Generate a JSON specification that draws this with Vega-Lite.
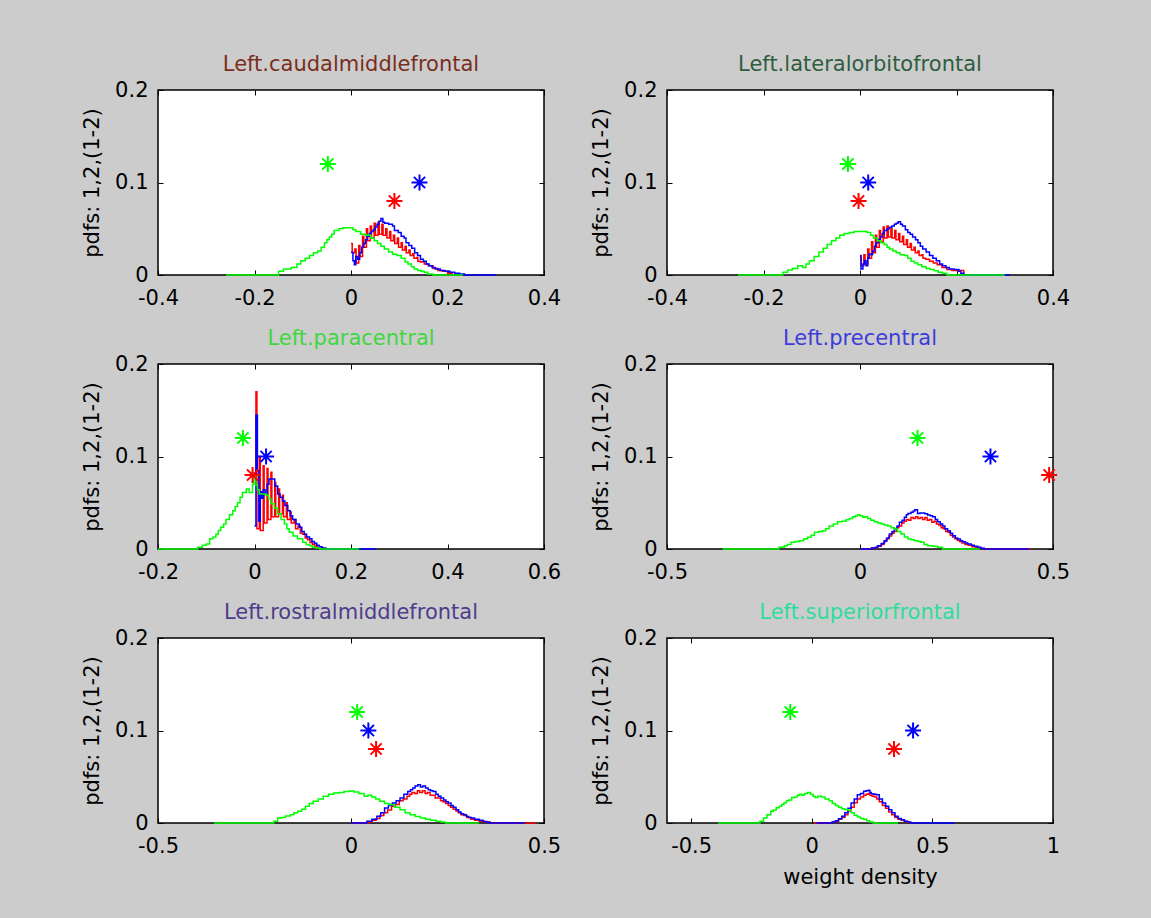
{
"$schema":"https://vega.github.io/schema/vega-lite/v6.json",
"background":"#cccccc",
"autosize":{"type":"pad"},
"padding":{"left":80,"top":53,"right":82,"bottom":35},
"columns":2,
"spacing":{"row":89,"column":123},
"bounds":"flush",
"datasets":{
"st":[
{"p":1,"s":"g","x":-0.048,"y":0.12},{"p":1,"s":"b","x":0.142,"y":0.1},{"p":1,"s":"r","x":0.09,"y":0.08},
{"p":2,"s":"g","x":-0.025,"y":0.12},{"p":2,"s":"b","x":0.017,"y":0.1},{"p":2,"s":"r","x":-0.003,"y":0.08},
{"p":3,"s":"g","x":-0.024,"y":0.12},{"p":3,"s":"b","x":0.024,"y":0.1},{"p":3,"s":"r","x":-0.004,"y":0.08},
{"p":4,"s":"g","x":0.149,"y":0.12},{"p":4,"s":"b","x":0.338,"y":0.1},{"p":4,"s":"r","x":0.49,"y":0.08},
{"p":5,"s":"g","x":0.016,"y":0.12},{"p":5,"s":"b","x":0.045,"y":0.1},{"p":5,"s":"r","x":0.065,"y":0.08},
{"p":6,"s":"g","x":-0.089,"y":0.12},{"p":6,"s":"b","x":0.42,"y":0.1},{"p":6,"s":"r","x":0.341,"y":0.08}
],
"c":[
{"p":1,"s":"g","x":-0.259,"y":0},{"p":1,"s":"g","x":-0.162,"y":0},{"p":1,"s":"g","x":-0.15,"y":0.004},{"p":1,"s":"g","x":-0.14,"y":0.0065},{"p":1,"s":"g","x":-0.124,"y":0.008},{"p":1,"s":"g","x":-0.112,"y":0.012},{"p":1,"s":"g","x":-0.104,"y":0.0155},{"p":1,"s":"g","x":-0.095,"y":0.018},{"p":1,"s":"g","x":-0.086,"y":0.021},{"p":1,"s":"g","x":-0.078,"y":0.024},{"p":1,"s":"g","x":-0.069,"y":0.026},{"p":1,"s":"g","x":-0.062,"y":0.03},{"p":1,"s":"g","x":-0.055,"y":0.035},{"p":1,"s":"g","x":-0.05,"y":0.038},{"p":1,"s":"g","x":-0.045,"y":0.041},{"p":1,"s":"g","x":-0.04,"y":0.044},{"p":1,"s":"g","x":-0.035,"y":0.048},{"p":1,"s":"g","x":-0.025,"y":0.05},{"p":1,"s":"g","x":-0.017,"y":0.051},{"p":1,"s":"g","x":0.004,"y":0.049},{"p":1,"s":"g","x":0.01,"y":0.047},{"p":1,"s":"g","x":0.02,"y":0.044},{"p":1,"s":"g","x":0.03,"y":0.043},{"p":1,"s":"g","x":0.041,"y":0.04},{"p":1,"s":"g","x":0.048,"y":0.037},{"p":1,"s":"g","x":0.055,"y":0.034},{"p":1,"s":"g","x":0.062,"y":0.031},{"p":1,"s":"g","x":0.069,"y":0.028},{"p":1,"s":"g","x":0.078,"y":0.025},{"p":1,"s":"g","x":0.086,"y":0.0225},{"p":1,"s":"g","x":0.095,"y":0.021},{"p":1,"s":"g","x":0.104,"y":0.018},{"p":1,"s":"g","x":0.112,"y":0.014},{"p":1,"s":"g","x":0.118,"y":0.012},{"p":1,"s":"g","x":0.125,"y":0.009},{"p":1,"s":"g","x":0.131,"y":0.0065},{"p":1,"s":"g","x":0.138,"y":0.005},{"p":1,"s":"g","x":0.145,"y":0.004},{"p":1,"s":"g","x":0.152,"y":0.003},{"p":1,"s":"g","x":0.159,"y":0.001},{"p":1,"s":"g","x":0.17,"y":0},{"p":1,"s":"g","x":0.232,"y":0},
{"p":1,"s":"b","x":0,"y":0.0245},{"p":1,"s":"b","x":0.004,"y":0.0155},{"p":1,"s":"b","x":0.007,"y":0.011},{"p":1,"s":"b","x":0.01,"y":0.02},{"p":1,"s":"b","x":0.014,"y":0.017},{"p":1,"s":"b","x":0.018,"y":0.024},{"p":1,"s":"b","x":0.022,"y":0.03},{"p":1,"s":"b","x":0.026,"y":0.034},{"p":1,"s":"b","x":0.03,"y":0.038},{"p":1,"s":"b","x":0.034,"y":0.042},{"p":1,"s":"b","x":0.038,"y":0.045},{"p":1,"s":"b","x":0.042,"y":0.047},{"p":1,"s":"b","x":0.046,"y":0.049},{"p":1,"s":"b","x":0.05,"y":0.052},{"p":1,"s":"b","x":0.054,"y":0.055},{"p":1,"s":"b","x":0.058,"y":0.058},{"p":1,"s":"b","x":0.062,"y":0.061},{"p":1,"s":"b","x":0.066,"y":0.057},{"p":1,"s":"b","x":0.07,"y":0.056},{"p":1,"s":"b","x":0.078,"y":0.055},{"p":1,"s":"b","x":0.086,"y":0.053},{"p":1,"s":"b","x":0.09,"y":0.048},{"p":1,"s":"b","x":0.098,"y":0.046},{"p":1,"s":"b","x":0.104,"y":0.042},{"p":1,"s":"b","x":0.11,"y":0.04},{"p":1,"s":"b","x":0.114,"y":0.035},{"p":1,"s":"b","x":0.12,"y":0.032},{"p":1,"s":"b","x":0.126,"y":0.029},{"p":1,"s":"b","x":0.132,"y":0.024},{"p":1,"s":"b","x":0.138,"y":0.021},{"p":1,"s":"b","x":0.144,"y":0.017},{"p":1,"s":"b","x":0.15,"y":0.015},{"p":1,"s":"b","x":0.156,"y":0.012},{"p":1,"s":"b","x":0.162,"y":0.01},{"p":1,"s":"b","x":0.168,"y":0.008},{"p":1,"s":"b","x":0.175,"y":0.0065},{"p":1,"s":"b","x":0.185,"y":0.005},{"p":1,"s":"b","x":0.195,"y":0.004},{"p":1,"s":"b","x":0.205,"y":0.003},{"p":1,"s":"b","x":0.215,"y":0.002},{"p":1,"s":"b","x":0.225,"y":0.001},{"p":1,"s":"b","x":0.235,"y":0},{"p":1,"s":"b","x":0.3,"y":0},
{"p":1,"s":"r","x":0,"y":0.034},{"p":1,"s":"r","x":0.0025,"y":0.024},{"p":1,"s":"r","x":0.008,"y":0.028},{"p":1,"s":"r","x":0.0105,"y":0.013},{"p":1,"s":"r","x":0.016,"y":0.032},{"p":1,"s":"r","x":0.0185,"y":0.02},{"p":1,"s":"r","x":0.024,"y":0.042},{"p":1,"s":"r","x":0.0265,"y":0.03},{"p":1,"s":"r","x":0.032,"y":0.05},{"p":1,"s":"r","x":0.0345,"y":0.037},{"p":1,"s":"r","x":0.04,"y":0.053},{"p":1,"s":"r","x":0.0425,"y":0.04},{"p":1,"s":"r","x":0.048,"y":0.056},{"p":1,"s":"r","x":0.0505,"y":0.043},{"p":1,"s":"r","x":0.056,"y":0.057},{"p":1,"s":"r","x":0.0585,"y":0.044},{"p":1,"s":"r","x":0.064,"y":0.055},{"p":1,"s":"r","x":0.0665,"y":0.043},{"p":1,"s":"r","x":0.072,"y":0.05},{"p":1,"s":"r","x":0.0745,"y":0.04},{"p":1,"s":"r","x":0.08,"y":0.047},{"p":1,"s":"r","x":0.0825,"y":0.037},{"p":1,"s":"r","x":0.088,"y":0.043},{"p":1,"s":"r","x":0.0905,"y":0.034},{"p":1,"s":"r","x":0.096,"y":0.04},{"p":1,"s":"r","x":0.0985,"y":0.03},{"p":1,"s":"r","x":0.104,"y":0.035},{"p":1,"s":"r","x":0.1065,"y":0.027},{"p":1,"s":"r","x":0.112,"y":0.031},{"p":1,"s":"r","x":0.1145,"y":0.024},{"p":1,"s":"r","x":0.12,"y":0.027},{"p":1,"s":"r","x":0.1225,"y":0.021},{"p":1,"s":"r","x":0.128,"y":0.023},{"p":1,"s":"r","x":0.1305,"y":0.018},{"p":1,"s":"r","x":0.136,"y":0.019},{"p":1,"s":"r","x":0.1385,"y":0.015},{"p":1,"s":"r","x":0.144,"y":0.014},{"p":1,"s":"r","x":0.152,"y":0.012},{"p":1,"s":"r","x":0.16,"y":0.01},{"p":1,"s":"r","x":0.17,"y":0.007},{"p":1,"s":"r","x":0.18,"y":0.005},{"p":1,"s":"r","x":0.19,"y":0.004},{"p":1,"s":"r","x":0.2,"y":0.002},{"p":1,"s":"r","x":0.21,"y":0},
{"p":2,"s":"g","x":-0.253,"y":0},{"p":2,"s":"g","x":-0.171,"y":0},{"p":2,"s":"g","x":-0.16,"y":0.003},{"p":2,"s":"g","x":-0.15,"y":0.0054},{"p":2,"s":"g","x":-0.14,"y":0.007},{"p":2,"s":"g","x":-0.129,"y":0.01},{"p":2,"s":"g","x":-0.119,"y":0.008},{"p":2,"s":"g","x":-0.112,"y":0.012},{"p":2,"s":"g","x":-0.105,"y":0.0155},{"p":2,"s":"g","x":-0.095,"y":0.02},{"p":2,"s":"g","x":-0.085,"y":0.025},{"p":2,"s":"g","x":-0.076,"y":0.029},{"p":2,"s":"g","x":-0.068,"y":0.033},{"p":2,"s":"g","x":-0.059,"y":0.037},{"p":2,"s":"g","x":-0.05,"y":0.04},{"p":2,"s":"g","x":-0.042,"y":0.043},{"p":2,"s":"g","x":-0.033,"y":0.045},{"p":2,"s":"g","x":-0.022,"y":0.046},{"p":2,"s":"g","x":-0.012,"y":0.047},{"p":2,"s":"g","x":0.015,"y":0.046},{"p":2,"s":"g","x":0.022,"y":0.043},{"p":2,"s":"g","x":0.028,"y":0.04},{"p":2,"s":"g","x":0.036,"y":0.037},{"p":2,"s":"g","x":0.043,"y":0.035},{"p":2,"s":"g","x":0.05,"y":0.033},{"p":2,"s":"g","x":0.056,"y":0.03},{"p":2,"s":"g","x":0.061,"y":0.028},{"p":2,"s":"g","x":0.068,"y":0.026},{"p":2,"s":"g","x":0.075,"y":0.024},{"p":2,"s":"g","x":0.083,"y":0.022},{"p":2,"s":"g","x":0.092,"y":0.021},{"p":2,"s":"g","x":0.099,"y":0.018},{"p":2,"s":"g","x":0.106,"y":0.015},{"p":2,"s":"g","x":0.113,"y":0.013},{"p":2,"s":"g","x":0.12,"y":0.011},{"p":2,"s":"g","x":0.128,"y":0.009},{"p":2,"s":"g","x":0.137,"y":0.007},{"p":2,"s":"g","x":0.145,"y":0.006},{"p":2,"s":"g","x":0.154,"y":0.0045},{"p":2,"s":"g","x":0.162,"y":0.003},{"p":2,"s":"g","x":0.171,"y":0.002},{"p":2,"s":"g","x":0.18,"y":0},{"p":2,"s":"g","x":0.3,"y":0},
{"p":2,"s":"b","x":0,"y":0.021},{"p":2,"s":"b","x":0.002,"y":0.0065},{"p":2,"s":"b","x":0.006,"y":0.012},{"p":2,"s":"b","x":0.009,"y":0.0155},{"p":2,"s":"b","x":0.0125,"y":0.01},{"p":2,"s":"b","x":0.016,"y":0.018},{"p":2,"s":"b","x":0.019,"y":0.0227},{"p":2,"s":"b","x":0.023,"y":0.022},{"p":2,"s":"b","x":0.026,"y":0.026},{"p":2,"s":"b","x":0.03,"y":0.031},{"p":2,"s":"b","x":0.033,"y":0.035},{"p":2,"s":"b","x":0.038,"y":0.038},{"p":2,"s":"b","x":0.042,"y":0.041},{"p":2,"s":"b","x":0.046,"y":0.045},{"p":2,"s":"b","x":0.05,"y":0.048},{"p":2,"s":"b","x":0.056,"y":0.05},{"p":2,"s":"b","x":0.061,"y":0.0515},{"p":2,"s":"b","x":0.066,"y":0.053},{"p":2,"s":"b","x":0.071,"y":0.055},{"p":2,"s":"b","x":0.075,"y":0.056},{"p":2,"s":"b","x":0.079,"y":0.0576},{"p":2,"s":"b","x":0.084,"y":0.055},{"p":2,"s":"b","x":0.088,"y":0.053},{"p":2,"s":"b","x":0.094,"y":0.049},{"p":2,"s":"b","x":0.099,"y":0.046},{"p":2,"s":"b","x":0.104,"y":0.044},{"p":2,"s":"b","x":0.109,"y":0.041},{"p":2,"s":"b","x":0.115,"y":0.038},{"p":2,"s":"b","x":0.12,"y":0.035},{"p":2,"s":"b","x":0.125,"y":0.031},{"p":2,"s":"b","x":0.13,"y":0.028},{"p":2,"s":"b","x":0.137,"y":0.025},{"p":2,"s":"b","x":0.144,"y":0.021},{"p":2,"s":"b","x":0.151,"y":0.018},{"p":2,"s":"b","x":0.158,"y":0.0155},{"p":2,"s":"b","x":0.165,"y":0.012},{"p":2,"s":"b","x":0.171,"y":0.01},{"p":2,"s":"b","x":0.178,"y":0.008},{"p":2,"s":"b","x":0.185,"y":0.0065},{"p":2,"s":"b","x":0.195,"y":0.006},{"p":2,"s":"b","x":0.205,"y":0.004},{"p":2,"s":"b","x":0.209,"y":0.002},{"p":2,"s":"b","x":0.215,"y":0},{"p":2,"s":"b","x":0.31,"y":0},
{"p":2,"s":"r","x":0,"y":0.02},{"p":2,"s":"r","x":0.0025,"y":0.01},{"p":2,"s":"r","x":0.008,"y":0.022},{"p":2,"s":"r","x":0.0105,"y":0.012},{"p":2,"s":"r","x":0.016,"y":0.028},{"p":2,"s":"r","x":0.0185,"y":0.018},{"p":2,"s":"r","x":0.024,"y":0.036},{"p":2,"s":"r","x":0.0265,"y":0.024},{"p":2,"s":"r","x":0.032,"y":0.043},{"p":2,"s":"r","x":0.0345,"y":0.03},{"p":2,"s":"r","x":0.04,"y":0.048},{"p":2,"s":"r","x":0.0425,"y":0.036},{"p":2,"s":"r","x":0.048,"y":0.052},{"p":2,"s":"r","x":0.0505,"y":0.04},{"p":2,"s":"r","x":0.056,"y":0.053},{"p":2,"s":"r","x":0.0585,"y":0.041},{"p":2,"s":"r","x":0.064,"y":0.05},{"p":2,"s":"r","x":0.0665,"y":0.04},{"p":2,"s":"r","x":0.072,"y":0.048},{"p":2,"s":"r","x":0.0745,"y":0.038},{"p":2,"s":"r","x":0.08,"y":0.045},{"p":2,"s":"r","x":0.0825,"y":0.036},{"p":2,"s":"r","x":0.088,"y":0.042},{"p":2,"s":"r","x":0.0905,"y":0.033},{"p":2,"s":"r","x":0.096,"y":0.038},{"p":2,"s":"r","x":0.0985,"y":0.03},{"p":2,"s":"r","x":0.104,"y":0.034},{"p":2,"s":"r","x":0.1065,"y":0.027},{"p":2,"s":"r","x":0.112,"y":0.03},{"p":2,"s":"r","x":0.1145,"y":0.024},{"p":2,"s":"r","x":0.12,"y":0.026},{"p":2,"s":"r","x":0.1225,"y":0.021},{"p":2,"s":"r","x":0.128,"y":0.022},{"p":2,"s":"r","x":0.1305,"y":0.018},{"p":2,"s":"r","x":0.136,"y":0.017},{"p":2,"s":"r","x":0.144,"y":0.015},{"p":2,"s":"r","x":0.152,"y":0.013},{"p":2,"s":"r","x":0.16,"y":0.011},{"p":2,"s":"r","x":0.17,"y":0.008},{"p":2,"s":"r","x":0.18,"y":0.006},{"p":2,"s":"r","x":0.19,"y":0.005},{"p":2,"s":"r","x":0.215,"y":0},
{"p":3,"s":"g","x":-0.2,"y":0},{"p":3,"s":"g","x":-0.128,"y":0},{"p":3,"s":"g","x":-0.118,"y":0.002},{"p":3,"s":"g","x":-0.108,"y":0.004},{"p":3,"s":"g","x":-0.1,"y":0.0054},{"p":3,"s":"g","x":-0.093,"y":0.011},{"p":3,"s":"g","x":-0.086,"y":0.013},{"p":3,"s":"g","x":-0.08,"y":0.016},{"p":3,"s":"g","x":-0.075,"y":0.02},{"p":3,"s":"g","x":-0.07,"y":0.0234},{"p":3,"s":"g","x":-0.064,"y":0.027},{"p":3,"s":"g","x":-0.059,"y":0.032},{"p":3,"s":"g","x":-0.052,"y":0.037},{"p":3,"s":"g","x":-0.045,"y":0.0414},{"p":3,"s":"g","x":-0.04,"y":0.046},{"p":3,"s":"g","x":-0.035,"y":0.05},{"p":3,"s":"g","x":-0.03,"y":0.056},{"p":3,"s":"g","x":-0.025,"y":0.061},{"p":3,"s":"g","x":-0.017,"y":0.065},{"p":3,"s":"g","x":-0.011,"y":0.061},{"p":3,"s":"g","x":-0.004,"y":0.07},{"p":3,"s":"g","x":-0.001,"y":0.078},{"p":3,"s":"g","x":0.003,"y":0.069},{"p":3,"s":"g","x":0.006,"y":0.064},{"p":3,"s":"g","x":0.01,"y":0.0595},{"p":3,"s":"g","x":0.024,"y":0.058},{"p":3,"s":"g","x":0.029,"y":0.054},{"p":3,"s":"g","x":0.034,"y":0.049},{"p":3,"s":"g","x":0.041,"y":0.044},{"p":3,"s":"g","x":0.048,"y":0.038},{"p":3,"s":"g","x":0.055,"y":0.032},{"p":3,"s":"g","x":0.062,"y":0.027},{"p":3,"s":"g","x":0.067,"y":0.022},{"p":3,"s":"g","x":0.072,"y":0.018},{"p":3,"s":"g","x":0.08,"y":0.014},{"p":3,"s":"g","x":0.089,"y":0.011},{"p":3,"s":"g","x":0.1,"y":0.0072},{"p":3,"s":"g","x":0.107,"y":0.005},{"p":3,"s":"g","x":0.114,"y":0.0036},{"p":3,"s":"g","x":0.12,"y":0.002},{"p":3,"s":"g","x":0.127,"y":0.001},{"p":3,"s":"g","x":0.135,"y":0},{"p":3,"s":"g","x":0.217,"y":0},
{"p":3,"s":"b","x":0,"y":0.025},{"p":3,"s":"b","x":0.003,"y":0.145},{"p":3,"s":"b","x":0.006,"y":0.085},{"p":3,"s":"b","x":0.009,"y":0.03},{"p":3,"s":"b","x":0.012,"y":0.062},{"p":3,"s":"b","x":0.015,"y":0.055},{"p":3,"s":"b","x":0.018,"y":0.064},{"p":3,"s":"b","x":0.022,"y":0.06},{"p":3,"s":"b","x":0.026,"y":0.07},{"p":3,"s":"b","x":0.03,"y":0.0757},{"p":3,"s":"b","x":0.037,"y":0.0757},{"p":3,"s":"b","x":0.042,"y":0.068},{"p":3,"s":"b","x":0.048,"y":0.0595},{"p":3,"s":"b","x":0.053,"y":0.056},{"p":3,"s":"b","x":0.058,"y":0.052},{"p":3,"s":"b","x":0.063,"y":0.047},{"p":3,"s":"b","x":0.069,"y":0.0414},{"p":3,"s":"b","x":0.074,"y":0.036},{"p":3,"s":"b","x":0.079,"y":0.032},{"p":3,"s":"b","x":0.086,"y":0.027},{"p":3,"s":"b","x":0.093,"y":0.0234},{"p":3,"s":"b","x":0.098,"y":0.019},{"p":3,"s":"b","x":0.103,"y":0.016},{"p":3,"s":"b","x":0.108,"y":0.013},{"p":3,"s":"b","x":0.114,"y":0.011},{"p":3,"s":"b","x":0.119,"y":0.008},{"p":3,"s":"b","x":0.124,"y":0.0061},{"p":3,"s":"b","x":0.129,"y":0.004},{"p":3,"s":"b","x":0.134,"y":0.0025},{"p":3,"s":"b","x":0.14,"y":0.001},{"p":3,"s":"b","x":0.148,"y":0},{"p":3,"s":"b","x":0.252,"y":0},
{"p":3,"s":"r","x":0,"y":0.075},{"p":3,"s":"r","x":0.003,"y":0.17},{"p":3,"s":"r","x":0.005,"y":0.022},{"p":3,"s":"r","x":0.01,"y":0.1},{"p":3,"s":"r","x":0.012,"y":0.02},{"p":3,"s":"r","x":0.018,"y":0.09},{"p":3,"s":"r","x":0.02,"y":0.028},{"p":3,"s":"r","x":0.026,"y":0.087},{"p":3,"s":"r","x":0.028,"y":0.032},{"p":3,"s":"r","x":0.034,"y":0.083},{"p":3,"s":"r","x":0.036,"y":0.035},{"p":3,"s":"r","x":0.042,"y":0.072},{"p":3,"s":"r","x":0.044,"y":0.035},{"p":3,"s":"r","x":0.05,"y":0.065},{"p":3,"s":"r","x":0.052,"y":0.038},{"p":3,"s":"r","x":0.058,"y":0.058},{"p":3,"s":"r","x":0.06,"y":0.035},{"p":3,"s":"r","x":0.066,"y":0.05},{"p":3,"s":"r","x":0.068,"y":0.032},{"p":3,"s":"r","x":0.074,"y":0.04},{"p":3,"s":"r","x":0.076,"y":0.028},{"p":3,"s":"r","x":0.082,"y":0.032},{"p":3,"s":"r","x":0.085,"y":0.022},{"p":3,"s":"r","x":0.09,"y":0.025},{"p":3,"s":"r","x":0.095,"y":0.017},{"p":3,"s":"r","x":0.1,"y":0.016},{"p":3,"s":"r","x":0.105,"y":0.012},{"p":3,"s":"r","x":0.11,"y":0.01},{"p":3,"s":"r","x":0.115,"y":0.007},{"p":3,"s":"r","x":0.12,"y":0.005},{"p":3,"s":"r","x":0.125,"y":0.003},{"p":3,"s":"r","x":0.13,"y":0.001},{"p":3,"s":"r","x":0.14,"y":0},
{"p":4,"s":"g","x":-0.356,"y":0},{"p":4,"s":"g","x":-0.222,"y":0},{"p":4,"s":"g","x":-0.21,"y":0.002},{"p":4,"s":"g","x":-0.196,"y":0.0036},{"p":4,"s":"g","x":-0.188,"y":0.005},{"p":4,"s":"g","x":-0.179,"y":0.0072},{"p":4,"s":"g","x":-0.168,"y":0.008},{"p":4,"s":"g","x":-0.157,"y":0.009},{"p":4,"s":"g","x":-0.146,"y":0.011},{"p":4,"s":"g","x":-0.136,"y":0.0126},{"p":4,"s":"g","x":-0.127,"y":0.015},{"p":4,"s":"g","x":-0.118,"y":0.018},{"p":4,"s":"g","x":-0.107,"y":0.019},{"p":4,"s":"g","x":-0.097,"y":0.0198},{"p":4,"s":"g","x":-0.089,"y":0.022},{"p":4,"s":"g","x":-0.08,"y":0.025},{"p":4,"s":"g","x":-0.069,"y":0.027},{"p":4,"s":"g","x":-0.058,"y":0.0295},{"p":4,"s":"g","x":-0.047,"y":0.03},{"p":4,"s":"g","x":-0.036,"y":0.0317},{"p":4,"s":"g","x":-0.028,"y":0.033},{"p":4,"s":"g","x":-0.019,"y":0.0349},{"p":4,"s":"g","x":-0.012,"y":0.036},{"p":4,"s":"g","x":-0.006,"y":0.0371},{"p":4,"s":"g","x":0,"y":0.036},{"p":4,"s":"g","x":0.007,"y":0.0342},{"p":4,"s":"g","x":0.013,"y":0.035},{"p":4,"s":"g","x":0.02,"y":0.0331},{"p":4,"s":"g","x":0.028,"y":0.031},{"p":4,"s":"g","x":0.037,"y":0.0295},{"p":4,"s":"g","x":0.046,"y":0.028},{"p":4,"s":"g","x":0.055,"y":0.027},{"p":4,"s":"g","x":0.063,"y":0.026},{"p":4,"s":"g","x":0.072,"y":0.025},{"p":4,"s":"g","x":0.08,"y":0.023},{"p":4,"s":"g","x":0.089,"y":0.0216},{"p":4,"s":"g","x":0.097,"y":0.019},{"p":4,"s":"g","x":0.106,"y":0.0162},{"p":4,"s":"g","x":0.115,"y":0.013},{"p":4,"s":"g","x":0.124,"y":0.0108},{"p":4,"s":"g","x":0.132,"y":0.01},{"p":4,"s":"g","x":0.141,"y":0.009},{"p":4,"s":"g","x":0.15,"y":0.008},{"p":4,"s":"g","x":0.158,"y":0.0072},{"p":4,"s":"g","x":0.166,"y":0.005},{"p":4,"s":"g","x":0.175,"y":0.0036},{"p":4,"s":"g","x":0.188,"y":0.003},{"p":4,"s":"g","x":0.201,"y":0.002},{"p":4,"s":"g","x":0.214,"y":0},{"p":4,"s":"g","x":0.31,"y":0},
{"p":4,"s":"b","x":0,"y":0},{"p":4,"s":"b","x":0.03,"y":0.001},{"p":4,"s":"b","x":0.04,"y":0.002},{"p":4,"s":"b","x":0.046,"y":0.0036},{"p":4,"s":"b","x":0.055,"y":0.006},{"p":4,"s":"b","x":0.063,"y":0.009},{"p":4,"s":"b","x":0.07,"y":0.012},{"p":4,"s":"b","x":0.076,"y":0.0162},{"p":4,"s":"b","x":0.083,"y":0.019},{"p":4,"s":"b","x":0.089,"y":0.0216},{"p":4,"s":"b","x":0.096,"y":0.025},{"p":4,"s":"b","x":0.102,"y":0.0288},{"p":4,"s":"b","x":0.109,"y":0.031},{"p":4,"s":"b","x":0.115,"y":0.0342},{"p":4,"s":"b","x":0.12,"y":0.037},{"p":4,"s":"b","x":0.124,"y":0.0385},{"p":4,"s":"b","x":0.132,"y":0.0396},{"p":4,"s":"b","x":0.138,"y":0.041},{"p":4,"s":"b","x":0.142,"y":0.0425},{"p":4,"s":"b","x":0.149,"y":0.0385},{"p":4,"s":"b","x":0.155,"y":0.039},{"p":4,"s":"b","x":0.162,"y":0.0389},{"p":4,"s":"b","x":0.168,"y":0.038},{"p":4,"s":"b","x":0.175,"y":0.0367},{"p":4,"s":"b","x":0.182,"y":0.036},{"p":4,"s":"b","x":0.188,"y":0.035},{"p":4,"s":"b","x":0.195,"y":0.032},{"p":4,"s":"b","x":0.201,"y":0.0295},{"p":4,"s":"b","x":0.208,"y":0.027},{"p":4,"s":"b","x":0.214,"y":0.025},{"p":4,"s":"b","x":0.22,"y":0.022},{"p":4,"s":"b","x":0.227,"y":0.0198},{"p":4,"s":"b","x":0.234,"y":0.017},{"p":4,"s":"b","x":0.24,"y":0.0144},{"p":4,"s":"b","x":0.247,"y":0.012},{"p":4,"s":"b","x":0.253,"y":0.0108},{"p":4,"s":"b","x":0.26,"y":0.009},{"p":4,"s":"b","x":0.266,"y":0.0079},{"p":4,"s":"b","x":0.273,"y":0.0065},{"p":4,"s":"b","x":0.279,"y":0.0054},{"p":4,"s":"b","x":0.288,"y":0.004},{"p":4,"s":"b","x":0.296,"y":0.0029},{"p":4,"s":"b","x":0.305,"y":0.002},{"p":4,"s":"b","x":0.313,"y":0.0007},{"p":4,"s":"b","x":0.322,"y":0},{"p":4,"s":"b","x":0.438,"y":0},
{"p":4,"s":"r","x":0,"y":0},{"p":4,"s":"r","x":0.03,"y":0.001},{"p":4,"s":"r","x":0.045,"y":0.003},{"p":4,"s":"r","x":0.055,"y":0.005},{"p":4,"s":"r","x":0.062,"y":0.008},{"p":4,"s":"r","x":0.068,"y":0.011},{"p":4,"s":"r","x":0.075,"y":0.014},{"p":4,"s":"r","x":0.082,"y":0.017},{"p":4,"s":"r","x":0.088,"y":0.019},{"p":4,"s":"r","x":0.095,"y":0.023},{"p":4,"s":"r","x":0.101,"y":0.025},{"p":4,"s":"r","x":0.108,"y":0.028},{"p":4,"s":"r","x":0.114,"y":0.03},{"p":4,"s":"r","x":0.12,"y":0.032},{"p":4,"s":"r","x":0.126,"y":0.031},{"p":4,"s":"r","x":0.132,"y":0.034},{"p":4,"s":"r","x":0.138,"y":0.033},{"p":4,"s":"r","x":0.144,"y":0.035},{"p":4,"s":"r","x":0.15,"y":0.033},{"p":4,"s":"r","x":0.156,"y":0.034},{"p":4,"s":"r","x":0.162,"y":0.032},{"p":4,"s":"r","x":0.168,"y":0.034},{"p":4,"s":"r","x":0.174,"y":0.031},{"p":4,"s":"r","x":0.18,"y":0.032},{"p":4,"s":"r","x":0.186,"y":0.029},{"p":4,"s":"r","x":0.192,"y":0.03},{"p":4,"s":"r","x":0.198,"y":0.027},{"p":4,"s":"r","x":0.204,"y":0.026},{"p":4,"s":"r","x":0.21,"y":0.023},{"p":4,"s":"r","x":0.216,"y":0.022},{"p":4,"s":"r","x":0.222,"y":0.019},{"p":4,"s":"r","x":0.228,"y":0.018},{"p":4,"s":"r","x":0.234,"y":0.015},{"p":4,"s":"r","x":0.24,"y":0.013},{"p":4,"s":"r","x":0.246,"y":0.011},{"p":4,"s":"r","x":0.252,"y":0.0095},{"p":4,"s":"r","x":0.258,"y":0.008},{"p":4,"s":"r","x":0.264,"y":0.0065},{"p":4,"s":"r","x":0.272,"y":0.005},{"p":4,"s":"r","x":0.28,"y":0.004},{"p":4,"s":"r","x":0.29,"y":0.0025},{"p":4,"s":"r","x":0.3,"y":0.0015},{"p":4,"s":"r","x":0.312,"y":0.0005},{"p":4,"s":"r","x":0.322,"y":0},{"p":4,"s":"r","x":0.442,"y":0},
{"p":5,"s":"g","x":-0.355,"y":0},{"p":5,"s":"g","x":-0.21,"y":0},{"p":5,"s":"g","x":-0.2,"y":0.002},{"p":5,"s":"g","x":-0.19,"y":0.0054},{"p":5,"s":"g","x":-0.18,"y":0.006},{"p":5,"s":"g","x":-0.17,"y":0.0075},{"p":5,"s":"g","x":-0.157,"y":0.009},{"p":5,"s":"g","x":-0.148,"y":0.011},{"p":5,"s":"g","x":-0.138,"y":0.0126},{"p":5,"s":"g","x":-0.128,"y":0.015},{"p":5,"s":"g","x":-0.118,"y":0.018},{"p":5,"s":"g","x":-0.108,"y":0.021},{"p":5,"s":"g","x":-0.098,"y":0.0234},{"p":5,"s":"g","x":-0.085,"y":0.026},{"p":5,"s":"g","x":-0.072,"y":0.029},{"p":5,"s":"g","x":-0.058,"y":0.031},{"p":5,"s":"g","x":-0.045,"y":0.0324},{"p":5,"s":"g","x":-0.03,"y":0.033},{"p":5,"s":"g","x":-0.018,"y":0.034},{"p":5,"s":"g","x":-0.005,"y":0.0345},{"p":5,"s":"g","x":0.008,"y":0.0335},{"p":5,"s":"g","x":0.02,"y":0.032},{"p":5,"s":"g","x":0.034,"y":0.029},{"p":5,"s":"g","x":0.044,"y":0.03},{"p":5,"s":"g","x":0.054,"y":0.028},{"p":5,"s":"g","x":0.064,"y":0.026},{"p":5,"s":"g","x":0.074,"y":0.0234},{"p":5,"s":"g","x":0.087,"y":0.021},{"p":5,"s":"g","x":0.1,"y":0.0198},{"p":5,"s":"g","x":0.113,"y":0.017},{"p":5,"s":"g","x":0.127,"y":0.0144},{"p":5,"s":"g","x":0.14,"y":0.011},{"p":5,"s":"g","x":0.153,"y":0.009},{"p":5,"s":"g","x":0.166,"y":0.007},{"p":5,"s":"g","x":0.18,"y":0.0054},{"p":5,"s":"g","x":0.193,"y":0.004},{"p":5,"s":"g","x":0.206,"y":0.0029},{"p":5,"s":"g","x":0.22,"y":0.002},{"p":5,"s":"g","x":0.233,"y":0.001},{"p":5,"s":"g","x":0.245,"y":0},{"p":5,"s":"g","x":0.332,"y":0},
{"p":5,"s":"b","x":0,"y":0},{"p":5,"s":"b","x":0.041,"y":0.0018},{"p":5,"s":"b","x":0.054,"y":0.004},{"p":5,"s":"b","x":0.067,"y":0.0072},{"p":5,"s":"b","x":0.077,"y":0.011},{"p":5,"s":"b","x":0.087,"y":0.0162},{"p":5,"s":"b","x":0.097,"y":0.019},{"p":5,"s":"b","x":0.107,"y":0.0216},{"p":5,"s":"b","x":0.117,"y":0.024},{"p":5,"s":"b","x":0.127,"y":0.027},{"p":5,"s":"b","x":0.137,"y":0.031},{"p":5,"s":"b","x":0.147,"y":0.034},{"p":5,"s":"b","x":0.154,"y":0.036},{"p":5,"s":"b","x":0.16,"y":0.0378},{"p":5,"s":"b","x":0.166,"y":0.04},{"p":5,"s":"b","x":0.173,"y":0.0414},{"p":5,"s":"b","x":0.18,"y":0.039},{"p":5,"s":"b","x":0.186,"y":0.04},{"p":5,"s":"b","x":0.193,"y":0.0378},{"p":5,"s":"b","x":0.2,"y":0.036},{"p":5,"s":"b","x":0.206,"y":0.035},{"p":5,"s":"b","x":0.213,"y":0.034},{"p":5,"s":"b","x":0.22,"y":0.031},{"p":5,"s":"b","x":0.226,"y":0.029},{"p":5,"s":"b","x":0.233,"y":0.027},{"p":5,"s":"b","x":0.24,"y":0.025},{"p":5,"s":"b","x":0.246,"y":0.023},{"p":5,"s":"b","x":0.252,"y":0.0216},{"p":5,"s":"b","x":0.259,"y":0.019},{"p":5,"s":"b","x":0.265,"y":0.017},{"p":5,"s":"b","x":0.272,"y":0.0144},{"p":5,"s":"b","x":0.279,"y":0.012},{"p":5,"s":"b","x":0.285,"y":0.01},{"p":5,"s":"b","x":0.292,"y":0.009},{"p":5,"s":"b","x":0.299,"y":0.007},{"p":5,"s":"b","x":0.305,"y":0.006},{"p":5,"s":"b","x":0.312,"y":0.0054},{"p":5,"s":"b","x":0.32,"y":0.004},{"p":5,"s":"b","x":0.332,"y":0.0029},{"p":5,"s":"b","x":0.342,"y":0.0015},{"p":5,"s":"b","x":0.352,"y":0.0007},{"p":5,"s":"b","x":0.36,"y":0},{"p":5,"s":"b","x":0.45,"y":0},
{"p":5,"s":"r","x":0,"y":0},{"p":5,"s":"r","x":0.045,"y":0.001},{"p":5,"s":"r","x":0.055,"y":0.003},{"p":5,"s":"r","x":0.065,"y":0.005},{"p":5,"s":"r","x":0.075,"y":0.008},{"p":5,"s":"r","x":0.085,"y":0.011},{"p":5,"s":"r","x":0.095,"y":0.014},{"p":5,"s":"r","x":0.105,"y":0.018},{"p":5,"s":"r","x":0.115,"y":0.02},{"p":5,"s":"r","x":0.125,"y":0.024},{"p":5,"s":"r","x":0.135,"y":0.026},{"p":5,"s":"r","x":0.145,"y":0.029},{"p":5,"s":"r","x":0.152,"y":0.031},{"p":5,"s":"r","x":0.158,"y":0.033},{"p":5,"s":"r","x":0.165,"y":0.032},{"p":5,"s":"r","x":0.172,"y":0.035},{"p":5,"s":"r","x":0.178,"y":0.033},{"p":5,"s":"r","x":0.185,"y":0.035},{"p":5,"s":"r","x":0.192,"y":0.032},{"p":5,"s":"r","x":0.198,"y":0.033},{"p":5,"s":"r","x":0.205,"y":0.03},{"p":5,"s":"r","x":0.212,"y":0.03},{"p":5,"s":"r","x":0.218,"y":0.027},{"p":5,"s":"r","x":0.225,"y":0.027},{"p":5,"s":"r","x":0.232,"y":0.024},{"p":5,"s":"r","x":0.238,"y":0.023},{"p":5,"s":"r","x":0.245,"y":0.021},{"p":5,"s":"r","x":0.252,"y":0.019},{"p":5,"s":"r","x":0.258,"y":0.017},{"p":5,"s":"r","x":0.265,"y":0.015},{"p":5,"s":"r","x":0.272,"y":0.013},{"p":5,"s":"r","x":0.278,"y":0.011},{"p":5,"s":"r","x":0.285,"y":0.009},{"p":5,"s":"r","x":0.292,"y":0.008},{"p":5,"s":"r","x":0.3,"y":0.006},{"p":5,"s":"r","x":0.31,"y":0.004},{"p":5,"s":"r","x":0.32,"y":0.003},{"p":5,"s":"r","x":0.332,"y":0.002},{"p":5,"s":"r","x":0.345,"y":0.001},{"p":5,"s":"r","x":0.36,"y":0},{"p":5,"s":"r","x":0.479,"y":0},
{"p":6,"s":"g","x":-0.388,"y":0},{"p":6,"s":"g","x":-0.229,"y":0},{"p":6,"s":"g","x":-0.215,"y":0.002},{"p":6,"s":"g","x":-0.2,"y":0.0054},{"p":6,"s":"g","x":-0.186,"y":0.009},{"p":6,"s":"g","x":-0.17,"y":0.0126},{"p":6,"s":"g","x":-0.16,"y":0.014},{"p":6,"s":"g","x":-0.147,"y":0.0164},{"p":6,"s":"g","x":-0.135,"y":0.018},{"p":6,"s":"g","x":-0.125,"y":0.02},{"p":6,"s":"g","x":-0.115,"y":0.022},{"p":6,"s":"g","x":-0.105,"y":0.024},{"p":6,"s":"g","x":-0.095,"y":0.025},{"p":6,"s":"g","x":-0.083,"y":0.0276},{"p":6,"s":"g","x":-0.07,"y":0.028},{"p":6,"s":"g","x":-0.06,"y":0.03},{"p":6,"s":"g","x":-0.05,"y":0.031},{"p":6,"s":"g","x":-0.04,"y":0.03},{"p":6,"s":"g","x":-0.03,"y":0.032},{"p":6,"s":"g","x":-0.018,"y":0.033},{"p":6,"s":"g","x":-0.005,"y":0.031},{"p":6,"s":"g","x":0.005,"y":0.029},{"p":6,"s":"g","x":0.014,"y":0.0276},{"p":6,"s":"g","x":0.025,"y":0.029},{"p":6,"s":"g","x":0.04,"y":0.028},{"p":6,"s":"g","x":0.055,"y":0.026},{"p":6,"s":"g","x":0.072,"y":0.024},{"p":6,"s":"g","x":0.085,"y":0.021},{"p":6,"s":"g","x":0.098,"y":0.019},{"p":6,"s":"g","x":0.111,"y":0.017},{"p":6,"s":"g","x":0.124,"y":0.0155},{"p":6,"s":"g","x":0.137,"y":0.0145},{"p":6,"s":"g","x":0.15,"y":0.0137},{"p":6,"s":"g","x":0.163,"y":0.011},{"p":6,"s":"g","x":0.176,"y":0.0085},{"p":6,"s":"g","x":0.189,"y":0.0065},{"p":6,"s":"g","x":0.202,"y":0.005},{"p":6,"s":"g","x":0.215,"y":0.004},{"p":6,"s":"g","x":0.228,"y":0.0025},{"p":6,"s":"g","x":0.24,"y":0.001},{"p":6,"s":"g","x":0.255,"y":0},{"p":6,"s":"g","x":0.358,"y":0},
{"p":6,"s":"b","x":0.02,"y":0},{"p":6,"s":"b","x":0.072,"y":0},{"p":6,"s":"b","x":0.085,"y":0.001},{"p":6,"s":"b","x":0.098,"y":0.0025},{"p":6,"s":"b","x":0.111,"y":0.0045},{"p":6,"s":"b","x":0.124,"y":0.0072},{"p":6,"s":"b","x":0.137,"y":0.011},{"p":6,"s":"b","x":0.15,"y":0.016},{"p":6,"s":"b","x":0.163,"y":0.0216},{"p":6,"s":"b","x":0.176,"y":0.026},{"p":6,"s":"b","x":0.189,"y":0.0306},{"p":6,"s":"b","x":0.202,"y":0.032},{"p":6,"s":"b","x":0.215,"y":0.0342},{"p":6,"s":"b","x":0.225,"y":0.035},{"p":6,"s":"b","x":0.234,"y":0.0353},{"p":6,"s":"b","x":0.241,"y":0.033},{"p":6,"s":"b","x":0.247,"y":0.0317},{"p":6,"s":"b","x":0.257,"y":0.031},{"p":6,"s":"b","x":0.267,"y":0.0306},{"p":6,"s":"b","x":0.28,"y":0.026},{"p":6,"s":"b","x":0.293,"y":0.0216},{"p":6,"s":"b","x":0.306,"y":0.018},{"p":6,"s":"b","x":0.319,"y":0.0144},{"p":6,"s":"b","x":0.332,"y":0.011},{"p":6,"s":"b","x":0.345,"y":0.0072},{"p":6,"s":"b","x":0.358,"y":0.005},{"p":6,"s":"b","x":0.371,"y":0.0036},{"p":6,"s":"b","x":0.384,"y":0.002},{"p":6,"s":"b","x":0.397,"y":0.001},{"p":6,"s":"b","x":0.41,"y":0},{"p":6,"s":"b","x":0.591,"y":0},
{"p":6,"s":"r","x":0.01,"y":0},{"p":6,"s":"r","x":0.072,"y":0},{"p":6,"s":"r","x":0.085,"y":0.001},{"p":6,"s":"r","x":0.098,"y":0.002},{"p":6,"s":"r","x":0.111,"y":0.004},{"p":6,"s":"r","x":0.124,"y":0.006},{"p":6,"s":"r","x":0.137,"y":0.009},{"p":6,"s":"r","x":0.15,"y":0.013},{"p":6,"s":"r","x":0.163,"y":0.017},{"p":6,"s":"r","x":0.176,"y":0.022},{"p":6,"s":"r","x":0.189,"y":0.026},{"p":6,"s":"r","x":0.202,"y":0.028},{"p":6,"s":"r","x":0.215,"y":0.03},{"p":6,"s":"r","x":0.225,"y":0.031},{"p":6,"s":"r","x":0.234,"y":0.032},{"p":6,"s":"r","x":0.241,"y":0.03},{"p":6,"s":"r","x":0.25,"y":0.029},{"p":6,"s":"r","x":0.26,"y":0.028},{"p":6,"s":"r","x":0.27,"y":0.026},{"p":6,"s":"r","x":0.28,"y":0.023},{"p":6,"s":"r","x":0.293,"y":0.019},{"p":6,"s":"r","x":0.306,"y":0.016},{"p":6,"s":"r","x":0.319,"y":0.012},{"p":6,"s":"r","x":0.332,"y":0.009},{"p":6,"s":"r","x":0.345,"y":0.006},{"p":6,"s":"r","x":0.358,"y":0.004},{"p":6,"s":"r","x":0.371,"y":0.003},{"p":6,"s":"r","x":0.384,"y":0.0015},{"p":6,"s":"r","x":0.397,"y":0.0005},{"p":6,"s":"r","x":0.41,"y":0},{"p":6,"s":"r","x":0.42,"y":0}
]
},
"concat":[
{"width":386,"height":185,"title":{"text":"Left.caudalmiddlefrontal","color":"#7a2e1e"},"resolve":{"axis":{"x":"independent","y":"independent"}},
"layer":[
{"data":{"name":"c"},"transform":[{"filter":"datum.p==1&&datum.s=='r'"}],"mark":{"type":"line","color":"#ff0000"},"encoding":{"x":{"field":"x","type":"quantitative","scale":{"domain":[-0.4,0.4]},"axis":{"values":[-0.4,-0.2,0,0.2,0.4],"title":null,"labelExpr":"replace(format(datum.value,'~g'),'−','-')"}},"y":{"field":"y","type":"quantitative","scale":{"domain":[0,0.2]},"axis":{"values":[0,0.1,0.2],"title":"pdfs: 1,2,(1-2)","labelExpr":"format(datum.value,'~g')"}}}},
{"data":{"name":"c"},"transform":[{"filter":"datum.p==1&&datum.s=='b'"}],"mark":{"type":"line","color":"#0000ff"},"encoding":{"x":{"field":"x","type":"quantitative","axis":null},"y":{"field":"y","type":"quantitative","axis":null}}},
{"data":{"name":"c"},"transform":[{"filter":"datum.p==1&&datum.s=='g'"}],"mark":{"type":"line","color":"#00ff00"},"encoding":{"x":{"field":"x","type":"quantitative","axis":null},"y":{"field":"y","type":"quantitative","axis":null}}},
{"data":{"name":"st"},"transform":[{"filter":"datum.p==1"}],"mark":{"type":"point","shape":"M-1,0L1,0M0,-1L0,1M-0.7,-0.7L0.7,0.7M-0.7,0.7L0.7,-0.7","filled":false,"size":256,"strokeWidth":2,"opacity":1},"encoding":{"x":{"field":"x","type":"quantitative","axis":{"orient":"top","labels":false,"title":null,"values":[-0.4,-0.2,0,0.2,0.4]}},"y":{"field":"y","type":"quantitative","axis":{"orient":"right","labels":false,"title":null,"values":[0,0.1,0.2]}},"color":{"field":"s","type":"nominal","scale":{"domain":["g","b","r"],"range":["#00ff00","#0000ff","#ff0000"]},"legend":null}}}
]},
{"width":386,"height":185,"title":{"text":"Left.lateralorbitofrontal","color":"#2f5d3f"},"resolve":{"axis":{"x":"independent","y":"independent"}},
"layer":[
{"data":{"name":"c"},"transform":[{"filter":"datum.p==2&&datum.s=='r'"}],"mark":{"type":"line","color":"#ff0000"},"encoding":{"x":{"field":"x","type":"quantitative","scale":{"domain":[-0.4,0.4]},"axis":{"values":[-0.4,-0.2,0,0.2,0.4],"title":null,"labelExpr":"replace(format(datum.value,'~g'),'−','-')"}},"y":{"field":"y","type":"quantitative","scale":{"domain":[0,0.2]},"axis":{"values":[0,0.1,0.2],"title":"pdfs: 1,2,(1-2)","labelExpr":"format(datum.value,'~g')"}}}},
{"data":{"name":"c"},"transform":[{"filter":"datum.p==2&&datum.s=='b'"}],"mark":{"type":"line","color":"#0000ff"},"encoding":{"x":{"field":"x","type":"quantitative","axis":null},"y":{"field":"y","type":"quantitative","axis":null}}},
{"data":{"name":"c"},"transform":[{"filter":"datum.p==2&&datum.s=='g'"}],"mark":{"type":"line","color":"#00ff00"},"encoding":{"x":{"field":"x","type":"quantitative","axis":null},"y":{"field":"y","type":"quantitative","axis":null}}},
{"data":{"name":"st"},"transform":[{"filter":"datum.p==2"}],"mark":{"type":"point","shape":"M-1,0L1,0M0,-1L0,1M-0.7,-0.7L0.7,0.7M-0.7,0.7L0.7,-0.7","filled":false,"size":256,"strokeWidth":2,"opacity":1},"encoding":{"x":{"field":"x","type":"quantitative","axis":{"orient":"top","labels":false,"title":null,"values":[-0.4,-0.2,0,0.2,0.4]}},"y":{"field":"y","type":"quantitative","axis":{"orient":"right","labels":false,"title":null,"values":[0,0.1,0.2]}},"color":{"field":"s","type":"nominal","scale":{"domain":["g","b","r"],"range":["#00ff00","#0000ff","#ff0000"]},"legend":null}}}
]},
{"width":386,"height":185,"title":{"text":"Left.paracentral","color":"#3ed83e"},"resolve":{"axis":{"x":"independent","y":"independent"}},
"layer":[
{"data":{"name":"c"},"transform":[{"filter":"datum.p==3&&datum.s=='r'"}],"mark":{"type":"line","color":"#ff0000"},"encoding":{"x":{"field":"x","type":"quantitative","scale":{"domain":[-0.2,0.6]},"axis":{"values":[-0.2,0,0.2,0.4,0.6],"title":null,"labelExpr":"replace(format(datum.value,'~g'),'−','-')"}},"y":{"field":"y","type":"quantitative","scale":{"domain":[0,0.2]},"axis":{"values":[0,0.1,0.2],"title":"pdfs: 1,2,(1-2)","labelExpr":"format(datum.value,'~g')"}}}},
{"data":{"name":"c"},"transform":[{"filter":"datum.p==3&&datum.s=='b'"}],"mark":{"type":"line","color":"#0000ff"},"encoding":{"x":{"field":"x","type":"quantitative","axis":null},"y":{"field":"y","type":"quantitative","axis":null}}},
{"data":{"name":"c"},"transform":[{"filter":"datum.p==3&&datum.s=='g'"}],"mark":{"type":"line","color":"#00ff00"},"encoding":{"x":{"field":"x","type":"quantitative","axis":null},"y":{"field":"y","type":"quantitative","axis":null}}},
{"data":{"name":"st"},"transform":[{"filter":"datum.p==3"}],"mark":{"type":"point","shape":"M-1,0L1,0M0,-1L0,1M-0.7,-0.7L0.7,0.7M-0.7,0.7L0.7,-0.7","filled":false,"size":256,"strokeWidth":2,"opacity":1},"encoding":{"x":{"field":"x","type":"quantitative","axis":{"orient":"top","labels":false,"title":null,"values":[-0.2,0,0.2,0.4,0.6]}},"y":{"field":"y","type":"quantitative","axis":{"orient":"right","labels":false,"title":null,"values":[0,0.1,0.2]}},"color":{"field":"s","type":"nominal","scale":{"domain":["g","b","r"],"range":["#00ff00","#0000ff","#ff0000"]},"legend":null}}}
]},
{"width":386,"height":185,"title":{"text":"Left.precentral","color":"#3c3cdc"},"resolve":{"axis":{"x":"independent","y":"independent"}},
"layer":[
{"data":{"name":"c"},"transform":[{"filter":"datum.p==4&&datum.s=='r'"}],"mark":{"type":"line","color":"#ff0000"},"encoding":{"x":{"field":"x","type":"quantitative","scale":{"domain":[-0.5,0.5]},"axis":{"values":[-0.5,0,0.5],"title":null,"labelExpr":"replace(format(datum.value,'~g'),'−','-')"}},"y":{"field":"y","type":"quantitative","scale":{"domain":[0,0.2]},"axis":{"values":[0,0.1,0.2],"title":"pdfs: 1,2,(1-2)","labelExpr":"format(datum.value,'~g')"}}}},
{"data":{"name":"c"},"transform":[{"filter":"datum.p==4&&datum.s=='b'"}],"mark":{"type":"line","color":"#0000ff"},"encoding":{"x":{"field":"x","type":"quantitative","axis":null},"y":{"field":"y","type":"quantitative","axis":null}}},
{"data":{"name":"c"},"transform":[{"filter":"datum.p==4&&datum.s=='g'"}],"mark":{"type":"line","color":"#00ff00"},"encoding":{"x":{"field":"x","type":"quantitative","axis":null},"y":{"field":"y","type":"quantitative","axis":null}}},
{"data":{"name":"st"},"transform":[{"filter":"datum.p==4"}],"mark":{"type":"point","shape":"M-1,0L1,0M0,-1L0,1M-0.7,-0.7L0.7,0.7M-0.7,0.7L0.7,-0.7","filled":false,"size":256,"strokeWidth":2,"opacity":1},"encoding":{"x":{"field":"x","type":"quantitative","axis":{"orient":"top","labels":false,"title":null,"values":[-0.5,0,0.5]}},"y":{"field":"y","type":"quantitative","axis":{"orient":"right","labels":false,"title":null,"values":[0,0.1,0.2]}},"color":{"field":"s","type":"nominal","scale":{"domain":["g","b","r"],"range":["#00ff00","#0000ff","#ff0000"]},"legend":null}}}
]},
{"width":386,"height":185,"title":{"text":"Left.rostralmiddlefrontal","color":"#4e3c8c"},"resolve":{"axis":{"x":"independent","y":"independent"}},
"layer":[
{"data":{"name":"c"},"transform":[{"filter":"datum.p==5&&datum.s=='r'"}],"mark":{"type":"line","color":"#ff0000"},"encoding":{"x":{"field":"x","type":"quantitative","scale":{"domain":[-0.5,0.5]},"axis":{"values":[-0.5,0,0.5],"title":null,"labelExpr":"replace(format(datum.value,'~g'),'−','-')"}},"y":{"field":"y","type":"quantitative","scale":{"domain":[0,0.2]},"axis":{"values":[0,0.1,0.2],"title":"pdfs: 1,2,(1-2)","labelExpr":"format(datum.value,'~g')"}}}},
{"data":{"name":"c"},"transform":[{"filter":"datum.p==5&&datum.s=='b'"}],"mark":{"type":"line","color":"#0000ff"},"encoding":{"x":{"field":"x","type":"quantitative","axis":null},"y":{"field":"y","type":"quantitative","axis":null}}},
{"data":{"name":"c"},"transform":[{"filter":"datum.p==5&&datum.s=='g'"}],"mark":{"type":"line","color":"#00ff00"},"encoding":{"x":{"field":"x","type":"quantitative","axis":null},"y":{"field":"y","type":"quantitative","axis":null}}},
{"data":{"name":"st"},"transform":[{"filter":"datum.p==5"}],"mark":{"type":"point","shape":"M-1,0L1,0M0,-1L0,1M-0.7,-0.7L0.7,0.7M-0.7,0.7L0.7,-0.7","filled":false,"size":256,"strokeWidth":2,"opacity":1},"encoding":{"x":{"field":"x","type":"quantitative","axis":{"orient":"top","labels":false,"title":null,"values":[-0.5,0,0.5]}},"y":{"field":"y","type":"quantitative","axis":{"orient":"right","labels":false,"title":null,"values":[0,0.1,0.2]}},"color":{"field":"s","type":"nominal","scale":{"domain":["g","b","r"],"range":["#00ff00","#0000ff","#ff0000"]},"legend":null}}}
]},
{"width":386,"height":185,"title":{"text":"Left.superiorfrontal","color":"#30dc9c"},"resolve":{"axis":{"x":"independent","y":"independent"}},
"layer":[
{"data":{"name":"c"},"transform":[{"filter":"datum.p==6&&datum.s=='r'"}],"mark":{"type":"line","color":"#ff0000"},"encoding":{"x":{"field":"x","type":"quantitative","scale":{"domain":[-0.5,1]},"axis":{"values":[-0.5,0,0.5,1],"title":"weight density","labelExpr":"replace(format(datum.value,'~g'),'−','-')"}},"y":{"field":"y","type":"quantitative","scale":{"domain":[0,0.2]},"axis":{"values":[0,0.1,0.2],"title":"pdfs: 1,2,(1-2)","labelExpr":"format(datum.value,'~g')"}}}},
{"data":{"name":"c"},"transform":[{"filter":"datum.p==6&&datum.s=='b'"}],"mark":{"type":"line","color":"#0000ff"},"encoding":{"x":{"field":"x","type":"quantitative","axis":null},"y":{"field":"y","type":"quantitative","axis":null}}},
{"data":{"name":"c"},"transform":[{"filter":"datum.p==6&&datum.s=='g'"}],"mark":{"type":"line","color":"#00ff00"},"encoding":{"x":{"field":"x","type":"quantitative","axis":null},"y":{"field":"y","type":"quantitative","axis":null}}},
{"data":{"name":"st"},"transform":[{"filter":"datum.p==6"}],"mark":{"type":"point","shape":"M-1,0L1,0M0,-1L0,1M-0.7,-0.7L0.7,0.7M-0.7,0.7L0.7,-0.7","filled":false,"size":256,"strokeWidth":2,"opacity":1},"encoding":{"x":{"field":"x","type":"quantitative","axis":{"orient":"top","labels":false,"title":null,"values":[-0.5,0,0.5,1]}},"y":{"field":"y","type":"quantitative","axis":{"orient":"right","labels":false,"title":null,"values":[0,0.1,0.2]}},"color":{"field":"s","type":"nominal","scale":{"domain":["g","b","r"],"range":["#00ff00","#0000ff","#ff0000"]},"legend":null}}}
]}
],
"config":{
"font":"DejaVu Sans",
"view":{"stroke":"#000000","strokeWidth":1.5,"fill":"#ffffff"},
"line":{"interpolate":"step-after","strokeWidth":1.5},
"axis":{"grid":false,"domain":false,"ticks":true,"tickSize":-5,"tickColor":"#000000","tickWidth":1,"labelFont":"DejaVu Sans","labelFontSize":21,"labelColor":"#000000","labelPadding":17,"labelFlush":false,"labelOverlap":false,"titleFont":"DejaVu Sans","titleFontSize":21,"titleFontWeight":"normal","titleColor":"#000000"},
"axisX":{"titlePadding":10},
"axisY":{"labelPadding":15,"titlePadding":12},
"title":{"font":"DejaVu Sans","fontSize":21,"fontWeight":"normal","offset":4,"baseline":"alphabetic","anchor":"middle"}
}
}
